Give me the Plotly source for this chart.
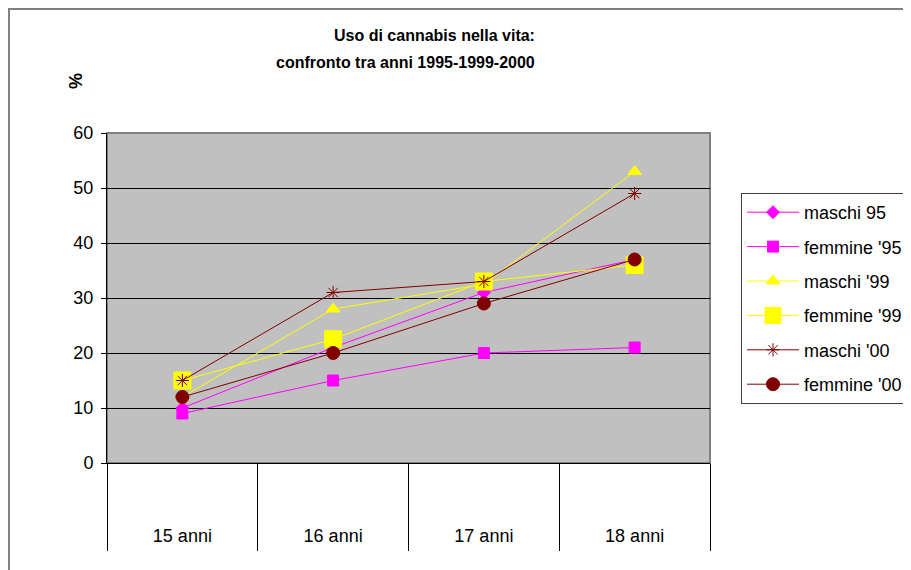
import plotly.graph_objects as go

categories = ["15 anni", "16 anni", "17 anni", "18 anni"]
maschi_95 = [10, 21, 31, 37]
femmine_95 = [9, 15, 20, 21]
maschi_99 = [12, 28, 32.5, 53]
femmine_99 = [15, 22.5, 33, 36]
maschi_00 = [15, 31, 33, 49]
femmine_00 = [12, 20, 29, 37]
y_ticks = [0, 10, 20, 30, 40, 50, 60]

OFF = 8  # page body margin
W, H = 911 - OFF, 570 - OFF
L, T = 107 - OFF, 133 - OFF
PW, PH = 603, 330
R, B = W - L - PW, H - T - PH

def px_x(px):
    return (px - OFF - L) / PW

def px_y(py):
    return (T + PH - (py - OFF)) / PH

MAG = "#FF00FF"
YEL = "#FFFF00"
MAR = "#800000"

series = [
    ("maschi 95", maschi_95, MAG, "diamond", 10),
    ("femmine '95", femmine_95, MAG, "square", 11),
    ("maschi '99", maschi_99, YEL, "triangle-up", 12),
    ("femmine '99", femmine_99, YEL, "square", 17),
    ("maschi '00", maschi_00, MAR, "asterisk-open", 11),
    ("femmine '00", femmine_00, MAR, "circle", 13),
]

fig = go.Figure()
for i, (name, vals, col, sym, sz) in enumerate(series):
    fig.add_trace(go.Scatter(
        x=categories, y=vals, name=name, mode="lines+markers",
        line=dict(color=col, width=1),
        marker=dict(symbol=sym, size=sz, color=col, line=dict(color=col, width=1)),
        legendgroup="g%d" % i,
    ))

TITLE_FONT = dict(family="Liberation Sans, Arial, sans-serif", size=16)

fig.update_layout(
    width=W, height=H,
    margin=dict(l=L, r=R, t=T, b=B, autoexpand=False),
    paper_bgcolor="white",
    plot_bgcolor="#C0C0C0",
    font=dict(family="Liberation Sans, Arial, sans-serif", size=18, color="black"),
    showlegend=True,
    legend=dict(
        x=px_x(741), y=px_y(193), xanchor="left", yanchor="top",
        bordercolor="#404040", borderwidth=1, bgcolor="white",
        font=dict(size=18), itemwidth=52, tracegroupgap=8,
        traceorder="grouped",
        entrywidth=200, entrywidthmode="pixels",
    ),
    xaxis=dict(
        type="category", range=[-0.5, 3.5],
        showgrid=False, showline=True, linecolor="black", linewidth=1,
        ticks="outside", tickson="boundaries", ticklen=87, tickcolor="black", tickwidth=1,
        ticklabelstandoff=56,
        tickfont=dict(size=18),
        fixedrange=True,
    ),
    yaxis=dict(
        range=[0, 60], tickvals=y_ticks,
        showgrid=True, gridcolor="black", gridwidth=1,
        zeroline=False,
        showline=True, linecolor="black", linewidth=1,
        ticks="outside", ticklen=5, tickcolor="black",
        ticklabelstandoff=4,
        tickfont=dict(size=18),
        fixedrange=True,
    ),
    shapes=[
        dict(type="rect", xref="paper", yref="paper",
             x0=-L / PW + 1.0 / PW, x1=px_x(940), y0=px_y(600),
             y1=(T + PH - 1.0) / PH,
             line=dict(color="#808080", width=2), fillcolor="rgba(0,0,0,0)", layer="below"),
        dict(type="rect", xref="paper", yref="paper",
             x0=0, x1=1, y0=0, y1=1,
             line=dict(color="#808080", width=2), fillcolor="rgba(0,0,0,0)", layer="below"),
    ],
    annotations=[
        dict(text="<b>Uso di cannabis nella vita:</b>", xref="paper", yref="paper",
             x=px_x(537), y=px_y(35), xanchor="right", yanchor="middle", showarrow=False,
             font=TITLE_FONT),
        dict(text="<b>confronto tra anni 1995-1999-2000</b>", xref="paper", yref="paper",
             x=px_x(537), y=px_y(62), xanchor="right", yanchor="middle", showarrow=False,
             font=TITLE_FONT),
        dict(text="<b>%</b>", xref="paper", yref="paper",
             x=px_x(76), y=px_y(81), xanchor="center", yanchor="middle", showarrow=False,
             textangle=-90, font=dict(size=18)),
    ],
)

fig.write_html("out.html")
